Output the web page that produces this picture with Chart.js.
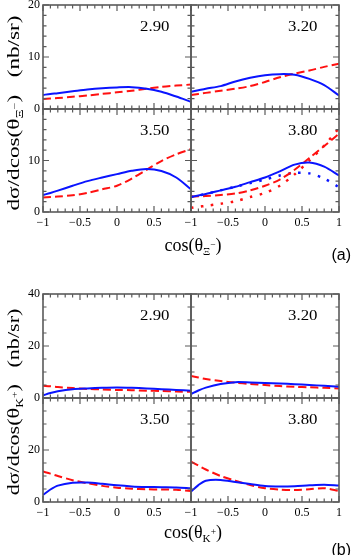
<!DOCTYPE html>
<html>
<head>
<meta charset="utf-8">
<script src="https://cdn.jsdelivr.net/npm/chart.js@4"></script>
<style>
  body { margin: 0; background: #fff; }
  #fig { position: relative; width: 353px; height: 555px; overflow: hidden;
         font-family: 'Liberation Serif', 'Times New Roman', serif; color: #000; }
  #fig canvas { position: absolute; }
  .txt { position: absolute; white-space: nowrap; line-height: 1; }
  .sb { font-size: 0.62em; vertical-align: -0.4em; }
  .sp { font-size: 0.85em; vertical-align: 0.7em; }
  .tag { font-family: 'Liberation Sans', Arial, sans-serif; }
</style>
</head>
<body>
<div id="fig"></div>
<script>
// shared cos(theta) grid
const cosTheta = [-1, -0.9, -0.8, -0.6, -0.4, -0.2, 0, 0.2, 0.4, 0.6, 0.8, 1];
const energies = ['2.90', '3.20', '3.50', '3.80'];
const xTicks = [-1, -0.5, 0, 0.5, 1];
const yTicksA = [0, 10, 20];
const yTicksB = [0, 20, 40];

// (a) dsigma/dcos(theta_Xi-)
const xiBlue290 = [2.7, 2.9, 3.05, 3.4, 3.75, 4.0, 4.15, 4.2, 3.9, 3.3, 2.4, 1.4];
const xiRed290  = [1.9, 2.0, 2.1, 2.35, 2.6, 2.9, 3.2, 3.5, 3.9, 4.25, 4.5, 4.7];
const xiBlue320 = [3.3, 3.6, 3.9, 4.4, 5.3, 6.0, 6.5, 6.7, 6.6, 5.8, 4.6, 2.6];
const xiRed320  = [2.7, 2.9, 3.1, 3.5, 3.9, 4.4, 5.2, 6.1, 6.8, 7.4, 8.1, 8.7];
const xiBlue350 = [3.3, 3.7, 4.15, 5.1, 6.0, 6.7, 7.35, 8.0, 8.35, 7.95, 6.7, 4.4];
const xiRed350  = [2.8, 2.9, 3.0, 3.25, 3.7, 4.4, 5.1, 6.5, 8.2, 9.9, 11.2, 12.2];
const xiBlue380 = [2.9, 3.2, 3.5, 4.2, 4.9, 5.8, 6.7, 7.9, 9.2, 9.6, 8.8, 7.1];
const xiRed380  = [3.0, 3.05, 3.1, 3.3, 3.6, 4.2, 5.1, 6.3, 8.2, 10.5, 12.8, 15.2];
const xiBlueDot380 = [2.9, 3.2, 3.5, 4.2, 4.9, 5.6, 6.3, 7.1, 7.6, 7.5, 6.5, 4.8];
const xiRedDot380  = [0.8, 1.0, 1.2, 1.6, 2.1, 2.9, 3.7, 5.1, 7.3, 10.0, 12.9, 16.3];

// (b) dsigma/dcos(theta_K+)
const kBlue290 = [1.0, 1.9, 2.6, 3.4, 3.7, 3.9, 4.0, 3.9, 3.7, 3.4, 3.1, 2.8];
const kRed290  = [4.7, 4.5, 4.2, 3.8, 3.5, 3.3, 3.1, 3.0, 2.8, 2.7, 2.5, 2.4];
const kBlue320 = [1.5, 2.9, 4.0, 5.4, 6.1, 6.0, 5.8, 5.6, 5.3, 5.0, 4.7, 4.3];
const kRed320  = [8.5, 7.9, 7.3, 6.5, 5.9, 5.4, 5.0, 4.6, 4.3, 4.1, 3.9, 3.7];
const kBlue350 = [2.7, 4.8, 6.3, 7.4, 7.5, 7.0, 6.4, 6.0, 5.8, 5.7, 5.6, 5.3];
const kRed350  = [11.7, 10.9, 10.0, 8.4, 7.2, 6.2, 5.5, 5.1, 4.9, 4.8, 4.7, 4.2];
const kBlue380 = [4.0, 6.5, 8.2, 8.5, 7.7, 6.9, 6.2, 6.0, 6.1, 6.4, 6.6, 6.3];
const kRed380  = [15.5, 14.0, 12.5, 10.0, 8.2, 6.5, 5.3, 4.8, 4.6, 4.9, 5.3, 4.2];

const styles = {
  blue:    { borderColor: '#0a14ff', borderWidth: 2 },
  red:     { borderColor: '#ff1010', borderWidth: 2, borderDash: [8, 4] },
  blueDot: { borderColor: '#0a14ff', borderWidth: 2.5, borderDash: [2.5, 7.5] },
  redDot:  { borderColor: '#ff1010', borderWidth: 2.5, borderDash: [2.5, 7.5] }
};

const serif = "'Liberation Serif', 'Times New Roman', serif";
const fmt = v => String(v).replace('-', '\u2212');

// frame + inward ticks on all four sides
const frameTicks = {
  id: 'frameTicks',
  afterDatasetsDraw(chart, args, opts) {
    const { ctx, chartArea: a, scales: { x, y } } = chart;
    ctx.save();
    ctx.strokeStyle = '#5a5a5a';
    ctx.lineWidth = 1.2;
    ctx.beginPath();
    for (let i = -10; i <= 10; i++) {
      const px = x.getPixelForValue(i / 10);
      const len = i % 5 === 0 ? 6 : 3.5;
      ctx.moveTo(px, a.bottom); ctx.lineTo(px, a.bottom - len);
      ctx.moveTo(px, a.top); ctx.lineTo(px, a.top + len);
    }
    const n = Math.round(y.max / opts.minor);
    for (let i = 0; i <= n; i++) {
      const v = i * opts.minor;
      const py = y.getPixelForValue(v);
      const len = (v % opts.major) === 0 ? 6 : 3.5;
      ctx.moveTo(a.left, py); ctx.lineTo(a.left + len, py);
      ctx.moveTo(a.right, py); ctx.lineTo(a.right - len, py);
    }
    ctx.stroke();
    ctx.lineWidth = 1.6;
    ctx.strokeRect(a.left, a.top, a.right - a.left, a.bottom - a.top);
    ctx.restore();
  }
};

const fig = document.getElementById('fig');
const PAD_L = 43, PAD_T = 8, PAD_R = 14, PAD_B = 24;

function panel(left, top, w, h, o) {
  const cv = document.createElement('canvas');
  cv.width = PAD_L + w + PAD_R;
  cv.height = PAD_T + h + PAD_B;
  cv.style.left = (left - PAD_L) + 'px';
  cv.style.top = (top - PAD_T) + 'px';
  fig.appendChild(cv);
  const yTop = o.yTicks[o.yTicks.length - 1];
  new Chart(cv, {
    type: 'line',
    data: {
      datasets: o.curves.map(c => Object.assign({
        data: cosTheta.map((x, i) => ({ x: x, y: c[1][i] })),
        pointRadius: 0, tension: 0.3, fill: false
      }, styles[c[0]]))
    },
    options: {
      responsive: false, animation: false, events: [],
      layout: { autoPadding: false, padding: { top: PAD_T, right: PAD_R, left: 0, bottom: 0 } },
      plugins: { legend: { display: false }, tooltip: { enabled: false },
                 frameTicks: { minor: o.minor, major: o.major } },
      scales: {
        x: {
          type: 'linear', min: -1, max: 1,
          grid: { display: false, drawTicks: false }, border: { display: false },
          afterBuildTicks: s => { s.ticks = xTicks.map(v => ({ value: v })); },
          ticks: {
            display: o.showX, padding: 4, color: '#000', maxRotation: 0, autoSkip: false,
            font: { family: serif, size: 12 },
            callback: v => (o.dropLastX && v === 1) ? '' : fmt(v)
          },
          afterFit: s => { s.height = PAD_B; s.paddingLeft = 0; s.paddingRight = 0; }
        },
        y: {
          min: 0, max: yTop,
          grid: { display: false, drawTicks: false }, border: { display: false },
          afterBuildTicks: s => { s.ticks = o.yTicks.map(v => ({ value: v })); },
          ticks: {
            display: o.showY, padding: 3, color: '#000', autoSkip: false,
            font: { family: serif, size: 12 },
            callback: v => (o.dropTopY && v === yTop) ? '' : fmt(v)
          },
          afterFit: s => { s.width = PAD_L; s.paddingTop = 0; s.paddingBottom = 0; }
        }
      }
    },
    plugins: [frameTicks]
  });
  const lb = document.createElement('div');
  lb.className = 'txt';
  lb.textContent = o.label;
  lb.style.fontSize = '14px';
  lb.style.right = (353 - (left + w - 22)) + 'px';
  lb.style.top = (top + 15) + 'px';
  lb.style.transformOrigin = 'right top';
  lb.style.transform = 'scaleX(1.2)';
  fig.appendChild(lb);
}

const colX = [43, 191], PW = 148;

function figure(rowTops, rowH, yTicks, minor, major, sets) {
  sets.forEach((curves, k) => {
    const r = Math.floor(k / 2), c = k % 2;
    panel(colX[c], rowTops[r], PW, rowH[r], {
      curves: curves, label: energies[k], yTicks: yTicks, minor: minor, major: major,
      showY: c === 0, showX: r === 1, dropLastX: c === 0, dropTopY: r === 1
    });
  });
}

figure([5, 109], [104, 103], yTicksA, 2, 10, [
  [['blue', xiBlue290], ['red', xiRed290]],
  [['blue', xiBlue320], ['red', xiRed320]],
  [['blue', xiBlue350], ['red', xiRed350]],
  [['blue', xiBlue380], ['red', xiRed380], ['blueDot', xiBlueDot380], ['redDot', xiRedDot380]]
]);
figure([294, 398], [104, 104], yTicksB, 5, 20, [
  [['blue', kBlue290], ['red', kRed290]],
  [['blue', kBlue320], ['red', kRed320]],
  [['blue', kBlue350], ['red', kRed350]],
  [['blue', kBlue380], ['red', kRed380]]
]);

// axis titles and figure tags
function text(html, css, cls) {
  const d = document.createElement('div');
  d.className = 'txt' + (cls ? ' ' + cls : '');
  d.innerHTML = html;
  Object.assign(d.style, css);
  fig.appendChild(d);
}
const yTitle = sub => 'd\u03c3/dcos(\u03b8<span class="sb">' + sub + '</span>)&nbsp;&nbsp;&nbsp;(nb/sr)';
const xTitle = sub => 'cos(\u03b8<span class="sb">' + sub + '</span>)';
const subXi = '\u039e<span class="sp">\u2212</span>';
const subK = 'K<span class="sp">+</span>';

text(yTitle(subXi), { fontSize: '16px', left: '15px', top: '113px',
  transform: 'translate(-50%,-50%) rotate(-90deg) scaleX(1.45)' });
text(yTitle(subK), { fontSize: '16px', left: '15px', top: '402px',
  transform: 'translate(-50%,-50%) rotate(-90deg) scaleX(1.38)' });
text(xTitle(subXi), { fontSize: '18px', left: '193px', top: '236px', transform: 'translateX(-50%)' });
text(xTitle(subK), { fontSize: '18px', left: '193px', top: '523px', transform: 'translateX(-50%)' });

text('(a)', { fontSize: '16px', right: '2px', top: '247px' }, 'tag');
text('(b)', { fontSize: '16px', right: '2px', top: '542px' }, 'tag');
</script>
</body>
</html>
